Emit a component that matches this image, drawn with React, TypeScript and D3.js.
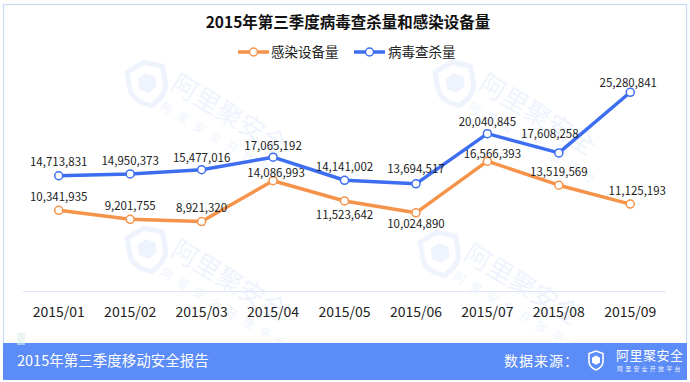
import React from "react";
import * as d3 from "d3";

const categories = ["2015/01", "2015/02", "2015/03", "2015/04", "2015/05", "2015/06", "2015/07", "2015/08", "2015/09"];
const infected = [10341935, 9201755, 8921320, 14086993, 11523642, 10024890, 16566393, 13519569, 11125193];
const killed = [14713831, 14950373, 15477016, 17065192, 14141002, 13694517, 20040845, 17608258, 25280841];
const seriesNames = ["感染设备量", "病毒查杀量"];
const title = "2015年第三季度病毒查杀量和感染设备量";
const footerLeft = "2015年第三季度移动安全报告";
const footerSource = "数据来源：";
const brand = "阿里聚安全";
const brandSub = "阿里安全开放平台";
const yDomain = [0, 30000000];

const W = 690;
const H = 382;
const FONT = "'Noto Sans CJK SC', 'Noto Sans', sans-serif";
const ORANGE = "#F5934A";
const BLUE = "#3D6EF2";
const FOOT = "#5B8CF7";
const WM = "#4a82ee";

const fmt = d3.format(",");

// label placement nudges [dx, dy] relative to default (above point)
const nudgeInfected: Record<number, [number, number]> = {
  3: [3, 6],
  4: [0, 27.5],
  5: [0, 24],
  6: [5, 6.3],
  8: [7, 0],
};
const nudgeKilled: Record<number, [number, number]> = {
  2: [0, 1.6],
  3: [0, 2.3],
  5: [0, -1.7],
  6: [0, 2],
  7: [-9, -5.4],
  8: [-2, 3.6],
};

function Watermark({ x, y }: { x: number; y: number }) {
  return (
    <g transform={`translate(${x},${y})`} opacity={0.085}>
      <g transform="rotate(-10)">
        <path d="M0,-20 L18,-13 L18,3 Q18,16 0,24 Q-18,16 -18,3 L-18,-13 Z" fill="none" stroke={WM} strokeWidth={5} />
        <path d="M0,-9 L9,-4 L9,6 L0,11 L-9,6 L-9,-4 Z" fill={WM} />
      </g>
      <g transform="translate(26,0) rotate(31)">
        <text x={0} y={8} fontSize={26} fill={WM} fontFamily={FONT}>{brand}</text>
        <text x={2} y={30} fontSize={12} fill={WM} fontFamily={FONT} letterSpacing={7}>{brandSub}</text>
      </g>
    </g>
  );
}

export default function App() {
  const x = d3.scaleBand<string>().domain(categories).range([23, 666]);
  const y = d3.scaleLinear().domain(yDomain).range([292, 55]);
  const cx = (c: string) => (x(c) as number) + x.bandwidth() / 2;

  const line = d3
    .line<number>()
    .x((_, i) => cx(categories[i]))
    .y((d) => y(d));

  const series = [
    { name: seriesNames[0], values: infected, color: ORANGE, nudge: nudgeInfected },
    { name: seriesNames[1], values: killed, color: BLUE, nudge: nudgeKilled },
  ];

  return (
    <svg
      width={W}
      height={H}
      style={{ position: "absolute", left: 0, top: 0, background: "#fff" }}
      fontFamily={FONT}
    >
      <rect x={0} y={0} width={W} height={H} fill="#fff" />
      <Watermark x={147} y={82} />
      <Watermark x={455} y={82} />
      <Watermark x={147} y={248} />
      <Watermark x={440} y={252} />

      <rect x={3.5} y={4.5} width={683} height={345} fill="none" stroke="#C9DAF8" strokeWidth={1.2} />

      <text x={348} y={28} textAnchor="middle" fontSize={15.5} fontWeight="bold" fill="#111">
        {title}
      </text>

      {[
        { x0: 238, tx: 271, s: series[0] },
        { x0: 354, tx: 388, s: series[1] },
      ].map((l, i) => (
        <g key={i}>
          <line x1={l.x0} x2={l.x0 + 31} y1={52} y2={52} stroke={l.s.color} strokeWidth={3.5} />
          <circle cx={l.x0 + 15.5} cy={52} r={4} fill="#fff" stroke={l.s.color} strokeWidth={1.5} />
          <text x={l.tx} y={57} fontSize={13.5} fill="#222">
            {l.s.name}
          </text>
        </g>
      ))}

      <line x1={23} x2={666} y1={291.5} y2={291.5} stroke="#DCE6F8" strokeWidth={1} />

      {categories.map((c) => (
        <text key={c} x={cx(c)} y={317} textAnchor="middle" fontSize={14} fill="#222">
          {c}
        </text>
      ))}

      {series.map((s) => (
        <g key={s.name}>
          <path d={line(s.values) || ""} fill="none" stroke={s.color} strokeWidth={3.5} strokeLinejoin="round" />
          {s.values.map((v, i) => (
            <circle key={i} cx={cx(categories[i])} cy={y(v)} r={4} fill="#fff" stroke={s.color} strokeWidth={1.5} />
          ))}
          {s.values.map((v, i) => {
            const n = s.nudge[i] || [0, 0];
            return (
              <text
                key={"t" + i}
                x={cx(categories[i]) + n[0]}
                y={y(v) - 9.3 + n[1]}
                textAnchor="middle"
                fontSize={11.5}
                fill="#222"
              >
                {fmt(v)}
              </text>
            );
          })}
        </g>
      ))}

      <rect x={3} y={343} width={684} height={37} fill={FOOT} />
      <rect x={17} y={333} width={8} height={12} fill="#d9efe6" opacity={0.6} />
      <text x={17} y={366} fontSize={14.5} fill="#fff">
        {footerLeft}
      </text>
      <text x={504} y={366} fontSize={14} fill="#fff" letterSpacing={1}>
        {footerSource}
      </text>
      <g transform="translate(596,360)">
        <path d="M0,-9 L7,-6.5 L7,1.5 Q7,7 0,10 Q-7,7 -7,1.5 L-7,-6.5 Z" fill="none" stroke="#fff" strokeWidth={1.6} />
        <path d="M0,-4.5 L4,-2.2 L4,2.5 L0,4.8 L-4,2.5 L-4,-2.2 Z" fill="#fff" />
      </g>
      <text x={616} y={359.5} fontSize={13} fill="#fff" letterSpacing={0.5}>
        {brand}
      </text>
      <text x={617} y={371} fontSize={6} fill="#fff" letterSpacing={2.2} opacity={0.9}>
        {brandSub}
      </text>
    </svg>
  );
}
